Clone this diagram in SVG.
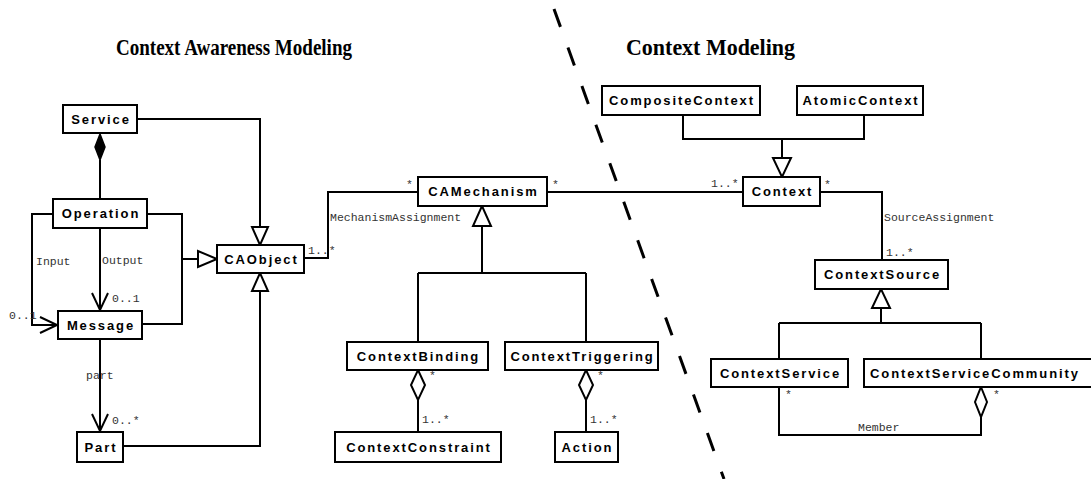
<svg xmlns="http://www.w3.org/2000/svg" width="1091" height="479" viewBox="0 0 1091 479">
  <style>
    .box { fill: #fff; stroke: #000; stroke-width: 2; }
    .name { font-family: "Liberation Sans", Arial, sans-serif; font-weight: bold; font-size: 13px; letter-spacing: 1.9px; text-anchor: middle; dominant-baseline: central; fill: #000; }
    .title { font-family: "Liberation Serif", "Times New Roman", serif; font-weight: bold; font-size: 24px; fill: #000; }
    .edge { fill: none; stroke: #000; stroke-width: 2; }
    .hollow { fill: #fff; stroke: #000; stroke-width: 2; stroke-linejoin: miter; }
    .solid { fill: #000; stroke: #000; stroke-width: 1.5; }
    .lbl { font-family: "Liberation Mono", "Courier New", monospace; font-size: 11.5px; fill: #333; }
    .divider { fill: none; stroke: #000; stroke-width: 3; stroke-dasharray: 19 22; }
  </style>

  <rect x="0" y="0" width="1091" height="479" fill="#fff"/>

  <!-- section headings -->
  <text class="title" x="116" y="55" textLength="236" lengthAdjust="spacingAndGlyphs">Context Awareness Modeling</text>
  <text class="title" x="626" y="55" textLength="169" lengthAdjust="spacingAndGlyphs">Context Modeling</text>

  <!-- boundary between the two models -->
  <path class="divider" d="M554,9 L724,479"/>

  <g id="connectors">
    <!-- Service composed of Operation -->
    <path class="edge" d="M100,160 V199"/>
    <polygon class="solid" points="100,134 105,147 100,160 95,147"/>

    <!-- Service generalizes to CAObject -->
    <path class="edge" d="M137,119 H260 V227"/>
    <polygon class="hollow" points="252,227 268,227 260,245"/>

    <!-- Output -->
    <path class="edge" d="M100,228 V310"/>
    <path class="edge" d="M92,293 L100,310 L108,293"/>

    <!-- Input -->
    <path class="edge" d="M53,214 H32 V325 H57"/>
    <path class="edge" d="M40,317 L57,325 L40,333"/>

    <!-- Operation / Message generalize to CAObject -->
    <path class="edge" d="M147,214 H182 V324 H142"/>
    <path class="edge" d="M182,259 H198"/>
    <polygon class="hollow" points="198,251 198,267 217,259"/>

    <!-- part -->
    <path class="edge" d="M100,339 V431"/>
    <path class="edge" d="M92,414 L100,431 L108,414"/>

    <!-- Part generalizes to CAObject -->
    <path class="edge" d="M123,446 H260 V291"/>
    <polygon class="hollow" points="252,291 268,291 260,273"/>

    <!-- MechanismAssignment -->
    <path class="edge" d="M304,258 H328 V192 H418"/>

    <!-- CAMechanism to Context -->
    <path class="edge" d="M547,192 H743"/>

    <!-- CAMechanism specializations -->
    <path class="edge" d="M482,226 V273 M418,273 H586 M418,273 V342 M586,273 V342"/>
    <polygon class="hollow" points="473,226 491,226 482,206"/>

    <!-- ContextBinding aggregates ContextConstraint -->
    <path class="edge" d="M418,400 V432"/>
    <polygon class="hollow" points="418,370 425,385 418,400 411,385"/>

    <!-- ContextTriggering aggregates Action -->
    <path class="edge" d="M586,400 V432"/>
    <polygon class="hollow" points="586,370 593,385 586,400 579,385"/>

    <!-- Context specializations -->
    <path class="edge" d="M683,115 V139 H864 V115 M782,139 V158"/>
    <polygon class="hollow" points="773,158 791,158 782,177"/>

    <!-- SourceAssignment -->
    <path class="edge" d="M820,192 H882 V260"/>

    <!-- ContextSource specializations -->
    <path class="edge" d="M881,308 V323 M779,323 H981 M779,323 V359 M981,323 V359"/>
    <polygon class="hollow" points="872,308 890,308 881,289"/>

    <!-- Member -->
    <path class="edge" d="M779,387 V435 H981 V417"/>
    <polygon class="hollow" points="981,387 987,402 981,417 975,402"/>

    <!-- connector labels and multiplicities -->
    <text class="lbl" x="36" y="265">Input</text>
    <text class="lbl" x="102" y="264">Output</text>
    <text class="lbl" x="112" y="302">0..1</text>
    <text class="lbl" x="9" y="319">0..1</text>
    <text class="lbl" x="86" y="379">part</text>
    <text class="lbl" x="112" y="424">0..*</text>
    <text class="lbl" x="308" y="254">1..*</text>
    <text class="lbl" x="406" y="188">*</text>
    <text class="lbl" x="330" y="221">MechanismAssignment</text>
    <text class="lbl" x="552" y="188">*</text>
    <text class="lbl" x="711" y="187">1..*</text>
    <text class="lbl" x="824" y="188">*</text>
    <text class="lbl" x="884" y="221">SourceAssignment</text>
    <text class="lbl" x="886" y="256">1..*</text>
    <text class="lbl" x="429" y="379">*</text>
    <text class="lbl" x="422" y="423">1..*</text>
    <text class="lbl" x="597" y="379">*</text>
    <text class="lbl" x="590" y="423">1..*</text>
    <text class="lbl" x="785" y="398">*</text>
    <text class="lbl" x="993" y="398">*</text>
    <text class="lbl" x="858" y="431">Member</text>
  </g>

  <g id="Service"><rect class="box" x="63" y="105" width="74" height="28"/><text class="name" x="101" y="119">Service</text></g>
  <g id="Operation"><rect class="box" x="53" y="199" width="94" height="29"/><text class="name" x="101" y="213.5">Operation</text></g>
  <g id="Message"><rect class="box" x="58" y="311" width="84" height="28"/><text class="name" x="101" y="325">Message</text></g>
  <g id="Part"><rect class="box" x="77" y="432" width="46" height="30"/><text class="name" x="101" y="447">Part</text></g>
  <g id="CAObject"><rect class="box" x="217" y="245" width="87" height="28"/><text class="name" x="261.5" y="259">CAObject</text></g>
  <g id="CAMechanism"><rect class="box" x="418" y="177" width="129" height="29"/><text class="name" x="483.5" y="191.5">CAMechanism</text></g>
  <g id="ContextBinding"><rect class="box" x="347" y="342" width="141" height="28"/><text class="name" x="418.5" y="356">ContextBinding</text></g>
  <g id="ContextTriggering"><rect class="box" x="505" y="342" width="153" height="28"/><text class="name" x="582.5" y="356">ContextTriggering</text></g>
  <g id="ContextConstraint"><rect class="box" x="335" y="432" width="166" height="30"/><text class="name" x="419" y="447">ContextConstraint</text></g>
  <g id="Action"><rect class="box" x="555" y="432" width="63" height="30"/><text class="name" x="587.5" y="447">Action</text></g>
  <g id="CompositeContext"><rect class="box" x="602" y="86" width="158" height="29"/><text class="name" x="682" y="100.5">CompositeContext</text></g>
  <g id="AtomicContext"><rect class="box" x="797" y="86" width="126" height="29"/><text class="name" x="861" y="100.5">AtomicContext</text></g>
  <g id="Context"><rect class="box" x="743" y="177" width="77" height="29"/><text class="name" x="782.5" y="191.5">Context</text></g>
  <g id="ContextSource"><rect class="box" x="815" y="260" width="133" height="29"/><text class="name" x="882.5" y="274.5">ContextSource</text></g>
  <g id="ContextService"><rect class="box" x="711" y="359" width="137" height="28"/><text class="name" x="780.5" y="373">ContextService</text></g>
  <g id="ContextServiceCommunity"><rect class="box" x="864" y="359" width="240" height="28"/><text class="name" x="870" y="373" style="text-anchor:start">ContextServiceCommunity</text></g>
</svg>
